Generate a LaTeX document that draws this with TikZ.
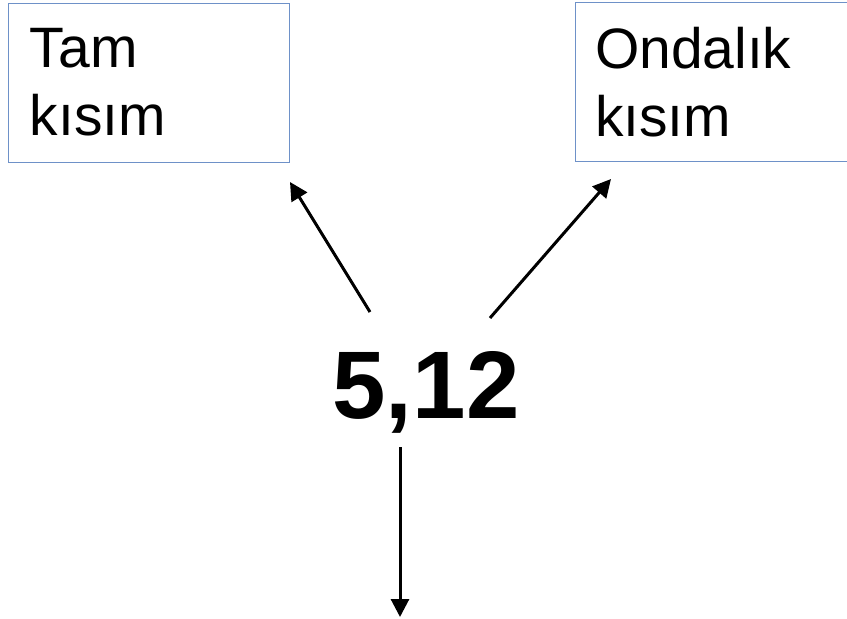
\documentclass[tikz,border=0pt]{standalone}
\usepackage{fontspec}
\setmainfont{Liberation Sans}
\usetikzlibrary{arrows.meta}
\definecolor{boxblue}{RGB}{110,145,200}

\begin{document}
\begin{tikzpicture}[x=1pt, y=-1pt,
part/.style={draw=boxblue, line width=1pt, minimum height=159pt, align=left,
  font=\fontsize{57}{68}\selectfont},
arr/.style={line width=3pt, -{Triangle[length=18pt,width=18pt]}}]
\useasboundingbox (0,0) rectangle (847,619);
\node[part, text width=237pt, inner xsep=22pt] (tam) at (148.5,82.5) {Tam\\kısım};
\node[part, text width=234pt, inner xsep=20pt] (ondalik) at (712,82) {Ondalık\\kısım};
\node[anchor=base, font=\fontsize{96}{110}\selectfont\bfseries] (num) at (426,418) {5,12};
\coordinate (l1) at (370,312);
\coordinate (l2) at (290,182);
\coordinate (r1) at (490,318);
\coordinate (r2) at (611,179);
\coordinate (d1) at (400,447);
\coordinate (d2) at (400,617);
\draw[arr] (l1) -- (l2);
\draw[arr] (r1) -- (r2);
\draw[arr] (d1) -- (d2);
\end{tikzpicture}
\end{document}
